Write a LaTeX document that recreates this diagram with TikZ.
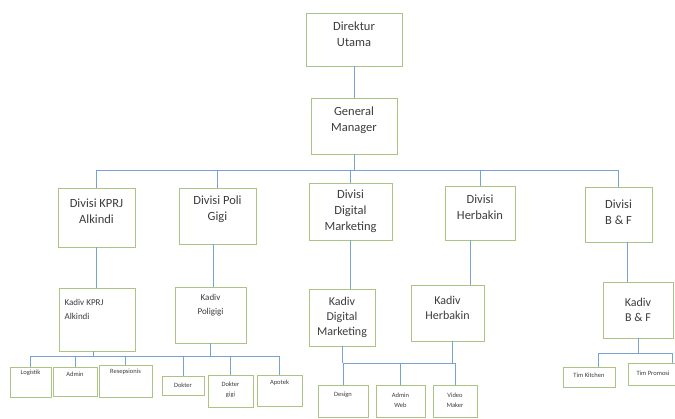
\documentclass[tikz,border=0pt]{standalone}
\usepackage{fontspec}
\setmainfont{Carlito}
\definecolor{boxgreen}{RGB}{170,196,130}
\definecolor{linkblue}{RGB}{120,162,212}
\definecolor{txtgray}{RGB}{60,60,60}
\begin{document}
\begin{tikzpicture}[x=1pt, y=-1pt,
  box/.style={draw=boxgreen, line width=0.9pt, inner sep=0pt},
  link/.style={draw=linkblue, line width=0.8pt},
  txtbig/.style={font=\fontsize{12.5}{16}\selectfont, align=center, text=txtgray, inner sep=0pt},
  txtkadiv/.style={font=\fontsize{12}{15}\selectfont, align=center, text=txtgray, inner sep=0pt},
  txtmid/.style={font=\fontsize{9}{14}\selectfont, align=center, text=txtgray, inner sep=0pt},
  txtsmall/.style={font=\fontsize{6.5}{10}\selectfont, align=center, text=txtgray, inner sep=0pt}]
\useasboundingbox (0,0) rectangle (675,419);
% direksi
\node[box, minimum width=96pt, minimum height=53pt, label={[txtbig, yshift=5pt]center:Direktur\\Utama}] (dirut) at (354,39.5) {};
\node[box, minimum width=86pt, minimum height=56pt, label={[txtbig, yshift=5.5pt]center:General\\Manager}] (gm) at (354,126) {};
% divisi
\node[box, minimum width=77pt, minimum height=59pt, label={[txtbig, yshift=6.5pt]center:Divisi KPRJ\\Alkindi}] (dkprj) at (96.5,217.5) {};
\node[box, minimum width=77pt, minimum height=56pt, label={[txtbig, yshift=7pt]center:Divisi Poli\\Gigi}] (dpoli) at (217.5,216) {};
\node[box, minimum width=83pt, minimum height=57pt, label={[txtbig]center:Divisi\\Digital\\Marketing}] (ddigi) at (350.5,211.5) {};
\node[box, minimum width=70pt, minimum height=54pt, label={[txtbig, yshift=6pt]center:Divisi\\Herbakin}] (dherb) at (480,213) {};
\node[box, minimum width=67pt, minimum height=55pt, label={[txtbig, yshift=2pt]center:Divisi\\B \& F}] (dbf) at (618.5,214.5) {};
% kadiv
\node[box, minimum width=76pt, minimum height=63pt, label={[txtmid, align=left, xshift=-13pt, yshift=10.5pt]center:Kadiv KPRJ\\Alkindi}] (kkprj) at (97,319.5) {};
\node[box, minimum width=71pt, minimum height=56pt, label={[txtmid, yshift=10pt]center:Kadiv\\Poligigi}] (kpoli) at (210.5,315) {};
\node[box, minimum width=66pt, minimum height=57pt, label={[txtkadiv]center:Kadiv\\Digital\\Marketing}] (kdigi) at (342,317.5) {};
\node[box, minimum width=73pt, minimum height=56pt, label={[txtkadiv, yshift=5.5pt]center:Kadiv\\Herbakin}] (kherb) at (447.5,313) {};
\node[box, minimum width=70pt, minimum height=56pt, label={[txtkadiv]center:Kadiv\\B \& F}] (kbf) at (638,310) {};
% staf
\node[box, minimum width=41pt, minimum height=30pt, label={[txtsmall, yshift=9pt]center:Logistik}] (logis) at (30.5,382) {};
\node[box, minimum width=44pt, minimum height=29pt, label={[txtsmall, yshift=7.5pt]center:Admin}] (admin) at (75,381.5) {};
\node[box, minimum width=53pt, minimum height=32pt, label={[txtsmall, yshift=9pt]center:Resepsionis}] (resep) at (125.5,381) {};
\node[box, minimum width=42pt, minimum height=19pt, label={[txtsmall]center:Dokter}] (dokter) at (183,385.5) {};
\node[box, minimum width=45pt, minimum height=32pt, label={[txtsmall, yshift=1.5pt]center:Dokter\\gigi}] (dokgigi) at (230.5,391) {};
\node[box, minimum width=45pt, minimum height=31pt, label={[txtsmall, yshift=8pt]center:Apotek}] (apotek) at (279.5,390.5) {};
\node[box, minimum width=50pt, minimum height=32pt, label={[txtsmall, yshift=6pt]center:Design}] (design) at (343,401) {};
\node[box, minimum width=49pt, minimum height=32pt, label={[txtsmall, yshift=1pt]center:Admin\\Web}] (adweb) at (400.5,401) {};
\node[box, minimum width=44pt, minimum height=32pt, label={[txtsmall, yshift=1pt]center:Video\\Maker}] (video) at (455,401) {};
\node[box, minimum width=52pt, minimum height=20pt, label={[txtsmall, yshift=2pt]center:Tim Kitchen}] (kitchen) at (589,377) {};
\node[box, minimum width=88pt, minimum height=22pt, label={[txtsmall, xshift=-19pt, yshift=1pt]center:Tim Promosi}] (promosi) at (672,374) {};
% garis
\coordinate (busTop) at (0,170);
\coordinate (busAB) at (0,356);
\coordinate (busCD) at (0,363);
\coordinate (busE) at (0,353);
\coordinate (polDown) at ([xshift=-4pt]dpoli.south);
\coordinate (herDown) at ([xshift=-10pt]dherb.south);
\coordinate (bfDown) at ([xshift=9pt]dbf.south);
\coordinate (kprjDown) at ([xshift=-4pt]kkprj.south);
\coordinate (kherDown) at ([xshift=5pt]kherb.south);
\coordinate (kitUp) at ([xshift=9pt]kitchen.north);
\draw[link] (dirut) -- (gm);
\draw[link] (gm) -- (gm.south |- busTop);
\draw[link] (dkprj.north |- busTop) -- (dbf.north |- busTop);
\foreach \d in {dkprj,dpoli,ddigi,dherb,dbf}
  \draw[link] (\d.north |- busTop) -- (\d.north);
\draw[link] (dkprj.south) -- (dkprj.south |- kkprj.north);
\draw[link] (polDown) -- (polDown |- kpoli.north);
\draw[link] (ddigi.south) -- (ddigi.south |- kdigi.north);
\draw[link] (herDown) -- (herDown |- kherb.north);
\draw[link] (bfDown) -- (bfDown |- kbf.north);
% staf KPRJ dan poli
\draw[link] (kprjDown) -- (kprjDown |- busAB);
\draw[link] (kpoli.south) -- (kpoli.south |- busAB);
\draw[link] (logis.north |- busAB) -- (apotek.north |- busAB);
\foreach \c in {logis,admin,resep,dokter,dokgigi,apotek}
  \draw[link] (\c.north |- busAB) -- (\c.north);
% staf digital dan herbakin
\draw[link] (kdigi.south) -- (kdigi.south |- busCD);
\draw[link] (kherDown) -- (kherDown |- busCD);
\draw[link] (design.north |- busCD) -- (video.north |- busCD);
\foreach \c in {design,adweb,video}
  \draw[link] (\c.north |- busCD) -- (\c.north);
% staf B&F
\draw[link] (kbf.south) -- (kbf.south |- busE);
\draw[link] (kitUp |- busE) -- (promosi.north |- busE);
\draw[link] (kitUp |- busE) -- (kitUp);
\draw[link] (promosi.north |- busE) -- (promosi.north);
\end{tikzpicture}
\end{document}
